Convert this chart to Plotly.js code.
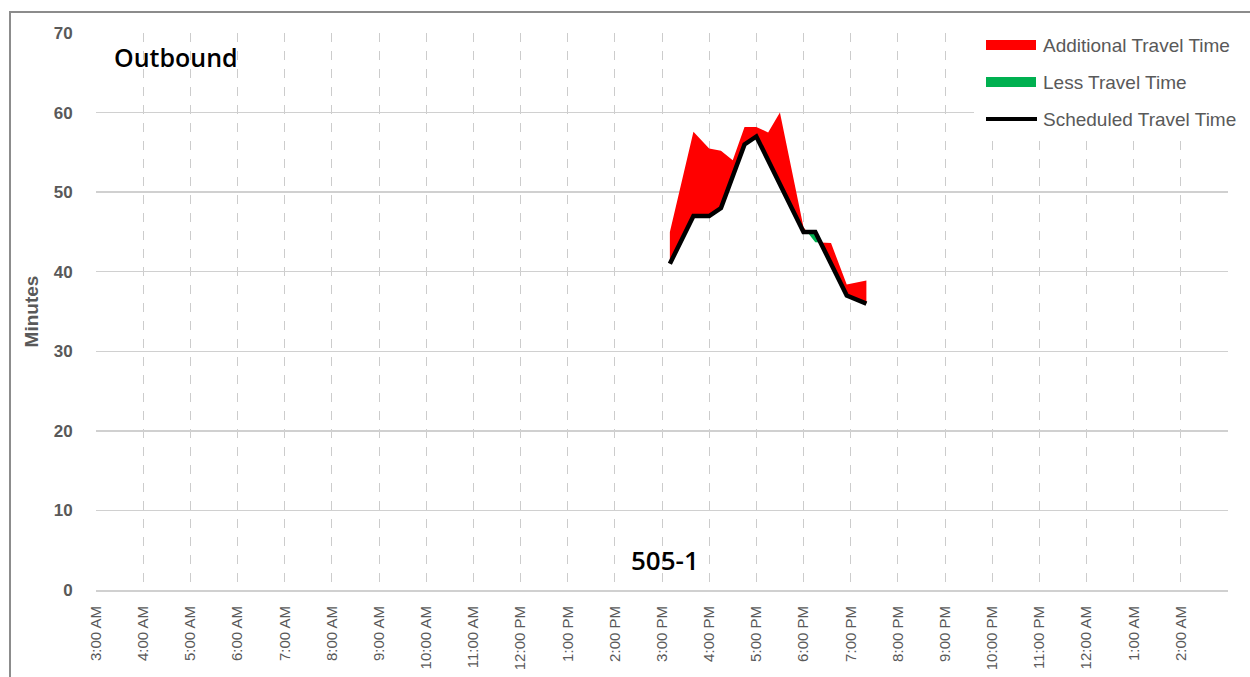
<!DOCTYPE html>
<html>
<head>
<meta charset="utf-8">
<script src="https://cdn.plot.ly/plotly-3.0.1.min.js"></script>
<style>
  html, body { margin: 0; padding: 0; background: #fff; }
  #chart { width: 1250px; height: 677px; }
</style>
</head>
<body>
<div id="chart"></div>
<script>
// ---- Data ----
const tripTimes = ["15:10", "15:40", "16:00", "16:15", "16:30", "16:45", "17:00",
                   "17:15", "17:30", "18:00", "18:15", "18:35", "18:55", "19:20"];
const scheduledMinutes = [41, 47, 47, 48, 52, 56, 57, 54, 51, 45, 45, 41, 37, 36];
const actualMinutes    = [45, 57.6, 55.5, 55.2, 54, 58.2, 58.2, 57.5, 60, 45.6, 43.7, 43.6, 38.4, 38.9];

const tickLabels = ["3:00 AM", "4:00 AM", "5:00 AM", "6:00 AM", "7:00 AM", "8:00 AM", "9:00 AM",
                    "10:00 AM", "11:00 AM", "12:00 PM", "1:00 PM", "2:00 PM", "3:00 PM", "4:00 PM",
                    "5:00 PM", "6:00 PM", "7:00 PM", "8:00 PM", "9:00 PM", "10:00 PM", "11:00 PM",
                    "12:00 AM", "1:00 AM", "2:00 AM"];
const seriesNames = ["Additional Travel Time", "Less Travel Time", "Scheduled Travel Time"];
const chartLabel = "Outbound";
const routeLabel = "505-1";

// ---- Helpers ----
function toHours(s) { const p = s.split(":"); return +p[0] + (+p[1]) / 60; }
const xs = tripTimes.map(toHours);
const tickVals = tickLabels.map((_, i) => 3 + i);

// Build fill boundaries, inserting the crossing points where actual meets scheduled
const fx = [], fs = [], fa = [];
for (let i = 0; i < xs.length; i++) {
  fx.push(xs[i]); fs.push(scheduledMinutes[i]); fa.push(actualMinutes[i]);
  if (i < xs.length - 1) {
    const d0 = actualMinutes[i] - scheduledMinutes[i];
    const d1 = actualMinutes[i + 1] - scheduledMinutes[i + 1];
    if (d0 * d1 < 0) {
      const f = d0 / (d0 - d1);
      const xc = xs[i] + f * (xs[i + 1] - xs[i]);
      const yc = scheduledMinutes[i] + f * (scheduledMinutes[i + 1] - scheduledMinutes[i]);
      fx.push(xc); fs.push(yc); fa.push(yc);
    }
  }
}
const redTop = fa.map((a, i) => Math.max(a, fs[i]));
const greenBottom = fa.map((a, i) => Math.min(a, fs[i]));

const RED = "#ff0000", GREEN = "#00b050";

const traces = [
  { x: fx, y: fs, mode: "lines", line: { width: 0, color: "rgba(0,0,0,0)" }, showlegend: false, hoverinfo: "skip" },
  { x: fx, y: redTop, mode: "lines", fill: "tonexty", fillcolor: RED, line: { width: 0, color: RED },
    name: seriesNames[0], showlegend: false },
  { x: fx, y: fs, mode: "lines", line: { width: 0, color: "rgba(0,0,0,0)" }, showlegend: false, hoverinfo: "skip" },
  { x: fx, y: greenBottom, mode: "lines", fill: "tonexty", fillcolor: GREEN, line: { width: 0, color: GREEN },
    name: seriesNames[1], showlegend: false },
  { x: xs, y: scheduledMinutes, mode: "lines", line: { width: 4.5, color: "#000000" },
    name: seriesNames[2], showlegend: false }
];

// pixel -> paper conversion (plot area: x 96..1228, y 33..590)
const L = 96, R = 1228, T = 33, B = 590;
const px = x => (x - L) / (R - L);
const py = y => (B - y) / (B - T);

const shapes = [
  // outer frame
  { type: "rect", xref: "paper", yref: "paper", x0: px(10), x1: px(1262), y0: py(700), y1: py(12),
    line: { color: "#8c8c8c", width: 2 }, fillcolor: "rgba(0,0,0,0)", layer: "above" },
  // legend background
  { type: "rect", xref: "paper", yref: "paper", x0: px(974), x1: px(1242), y0: py(137), y1: py(26),
    line: { width: 0 }, fillcolor: "#ffffff", layer: "above" },
  // legend swatches
  { type: "line", xref: "paper", yref: "paper", x0: px(986), x1: px(1036), y0: py(45), y1: py(45),
    line: { color: RED, width: 10 }, layer: "above" },
  { type: "line", xref: "paper", yref: "paper", x0: px(986), x1: px(1036), y0: py(82), y1: py(82),
    line: { color: GREEN, width: 10 }, layer: "above" },
  { type: "line", xref: "paper", yref: "paper", x0: px(986), x1: px(1037), y0: py(119), y1: py(119),
    line: { color: "#000000", width: 4 }, layer: "above" }
];

const legendFont = { family: "Liberation Sans, Arial, sans-serif", size: 19, color: "#595959" };
const annotations = [
  { xref: "paper", yref: "paper", x: px(1041), y: py(45), xanchor: "left", yanchor: "middle",
    text: seriesNames[0], showarrow: false, font: legendFont },
  { xref: "paper", yref: "paper", x: px(1041), y: py(82), xanchor: "left", yanchor: "middle",
    text: seriesNames[1], showarrow: false, font: legendFont },
  { xref: "paper", yref: "paper", x: px(1041), y: py(119), xanchor: "left", yanchor: "middle",
    text: seriesNames[2], showarrow: false, font: legendFont },
  { xref: "paper", yref: "paper", x: px(112), y: py(57), xanchor: "left", yanchor: "middle",
    text: chartLabel, showarrow: false,
    font: { family: "Open Sans, Noto Sans, sans-serif", size: 25, color: "#000000", weight: 600 } },
  { xref: "paper", yref: "paper", x: px(665), y: py(560), xanchor: "center", yanchor: "middle",
    text: routeLabel, showarrow: false,
    font: { family: "Open Sans, Noto Sans, sans-serif", size: 26, color: "#000000", weight: 600 } }
];

const layout = {
  width: 1250, height: 677,
  margin: { l: L, r: 1250 - R, t: T, b: 677 - B, pad: 0 },
  paper_bgcolor: "#ffffff", plot_bgcolor: "#ffffff",
  showlegend: false,
  xaxis: {
    range: [3, 27], tickvals: tickVals, ticktext: tickLabels, tickangle: -90,
    showgrid: true, gridcolor: "#cccccc", gridwidth: 1, griddash: "dash",
    zeroline: false, showline: true, linecolor: "#d0d0d0", linewidth: 2,
    ticks: "outside", ticklen: 8, tickcolor: "rgba(0,0,0,0)",
    tickfont: { family: "Liberation Sans, Arial, sans-serif", size: 15, color: "#595959" },
    fixedrange: true
  },
  yaxis: {
    range: [0, 70], tickvals: [0, 10, 20, 30, 40, 50, 60, 70],
    showgrid: true, gridcolor: "#d0d0d0", gridwidth: 1.5,
    zeroline: false, showline: false,
    ticks: "outside", ticklen: 19, tickcolor: "rgba(0,0,0,0)",
    tickfont: { family: "Liberation Sans, Arial, sans-serif", size: 17, color: "#595959", weight: "bold" },
    title: { text: "Minutes", standoff: 10,
             font: { family: "Liberation Sans, Arial, sans-serif", size: 19, color: "#595959", weight: "bold" } },
    fixedrange: true
  },
  shapes: shapes,
  annotations: annotations
};

Plotly.newPlot("chart", traces, layout, { displayModeBar: false, staticPlot: true });
</script>
</body>
</html>
